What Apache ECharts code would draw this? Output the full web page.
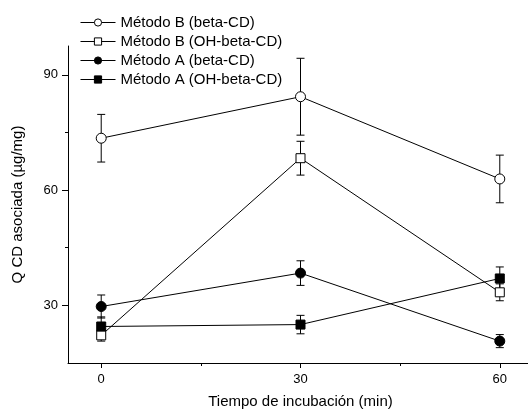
<!DOCTYPE html>
<html lang="es">
<head>
<meta charset="UTF-8">
<title>Q CD asociada</title>
<script src="https://cdn.jsdelivr.net/npm/echarts@6/dist/echarts.min.js"></script>
<style>
  html, body { margin: 0; padding: 0; background: #fff; }
  #chart { width: 528px; height: 410px; }
</style>
</head>
<body>
<div id="chart"></div>
<script>
// tiempos de incubacion (min)
var tiempos = [0, 30, 60];
var nombres = ['Método B (beta-CD)', 'Método B (OH-beta-CD)', 'Método A (beta-CD)', 'Método A (OH-beta-CD)'];
// medias
var bBeta = [73.5, 84.3, 62.9];
var bOH = [22.2, 68.3, 33.4];
var aBeta = [29.7, 38.4, 20.7];
var aOH = [24.5, 25.0, 37.0];
// desviaciones
var bBetaErr = [6.2, 10.0, 6.2];
var bOHErr = [1.5, 4.4, 2.2];
var aBetaErr = [3.0, 3.2, 1.7];
var aOHErr = [2.5, 2.4, 3.0];
// ticks
var yLabels = [30, 60, 90];
var yMinor = [45, 75];
var xLabels = [0, 30, 60];
var xMinor = [15, 45];

var chart = echarts.init(document.getElementById('chart'));
var fuente = 'Liberation Sans, Arial, sans-serif';

function pares(vals) {
  var out = [];
  for (var i = 0; i < tiempos.length; i++) out.push([tiempos[i], vals[i]]);
  return out;
}
function paresErr(vals, errs) {
  var out = [];
  for (var i = 0; i < tiempos.length; i++) out.push([tiempos[i], vals[i], errs[i]]);
  return out;
}

function serieLinea(nombre, vals, simbolo, relleno, z) {
  return {
    name: nombre,
    type: 'line',
    data: pares(vals),
    symbol: simbolo,
    symbolSize: simbolo == 'circle' ? 10 : 9,
    showAllSymbol: true,
    z: z,
    lineStyle: { color: '#000', width: 1 },
    itemStyle: { color: relleno, borderColor: '#000', borderWidth: 1 },
    emphasis: { disabled: true }
  };
}

function serieError(vals, errs) {
  return {
    type: 'custom',
    data: paresErr(vals, errs),
    z: 1,
    silent: true,
    renderItem: function (params, api) {
      var x = api.value(0), y = api.value(1), e = api.value(2);
      var top = api.coord([x, y + e]);
      var bot = api.coord([x, y - e]);
      var w = 4;
      return {
        type: 'group',
        children: [
          { type: 'line', shape: { x1: top[0], y1: top[1], x2: bot[0], y2: bot[1] }, style: { stroke: '#000', lineWidth: 1 } },
          { type: 'line', shape: { x1: top[0] - w, y1: top[1], x2: top[0] + w, y2: top[1] }, style: { stroke: '#000', lineWidth: 1 } },
          { type: 'line', shape: { x1: bot[0] - w, y1: bot[1], x2: bot[0] + w, y2: bot[1] }, style: { stroke: '#000', lineWidth: 1 } }
        ]
      };
    }
  };
}

var option = {
  animation: false,
  backgroundColor: '#fff',
  textStyle: { fontFamily: fuente, color: '#000' },
  grid: { left: 68, right: -5, top: 46, bottom: 47, outerBoundsMode: 'none', containLabel: false },
  legend: {
    orient: 'vertical',
    left: 80,
    top: 15,
    padding: 0,
    itemGap: 4,
    itemWidth: 35,
    itemHeight: 9,
    data: nombres,
    lineStyle: { width: 1 },
    itemStyle: { borderWidth: 1 },
    textStyle: { fontFamily: fuente, fontSize: 15, color: '#000' }
  },
  xAxis: [{
    type: 'value', min: -5, max: 65,
    name: 'Tiempo de incubación (min)', nameLocation: 'middle', nameGap: 31,
    nameTextStyle: { fontFamily: fuente, fontSize: 15, color: '#000' },
    axisLine: { onZero: false, lineStyle: { color: '#000', width: 1 } },
    axisTick: { customValues: xLabels, length: 5, lineStyle: { color: '#000' } },
    axisLabel: { customValues: xLabels, margin: 10, fontSize: 13, color: '#000', fontFamily: fuente },
    splitLine: { show: false }
  }, {
    type: 'value', min: -5, max: 65, position: 'bottom',
    axisLine: { show: false, onZero: false },
    axisTick: { customValues: xMinor, length: 3, lineStyle: { color: '#000' } },
    axisLabel: { show: false },
    splitLine: { show: false }
  }],
  yAxis: [{
    type: 'value', min: 15, max: 97.5,
    name: 'Q CD asociada (µg/mg)', nameLocation: 'middle', nameGap: 43,
    nameTextStyle: { fontFamily: fuente, fontSize: 15, color: '#000' },
    axisLine: { show: true, onZero: false, lineStyle: { color: '#000', width: 1 } },
    axisTick: { show: true, customValues: yLabels, length: 6, lineStyle: { color: '#000' } },
    axisLabel: { customValues: yLabels, margin: 10, fontSize: 13, color: '#000', fontFamily: fuente },
    splitLine: { show: false }
  }, {
    type: 'value', min: 15, max: 97.5, position: 'left',
    axisLine: { show: false, onZero: false },
    axisTick: { show: true, customValues: yMinor, length: 3, lineStyle: { color: '#000' } },
    axisLabel: { show: false },
    splitLine: { show: false }
  }],
  series: [
    serieError(bBeta, bBetaErr),
    serieError(bOH, bOHErr),
    serieError(aBeta, aBetaErr),
    serieError(aOH, aOHErr),
    serieLinea(nombres[0], bBeta, 'circle', '#fff', 3),
    serieLinea(nombres[1], bOH, 'rect', '#fff', 3),
    serieLinea(nombres[2], aBeta, 'circle', '#000', 4),
    serieLinea(nombres[3], aOH, 'rect', '#000', 4)
  ]
};
chart.setOption(option);
</script>
</body>
</html>
